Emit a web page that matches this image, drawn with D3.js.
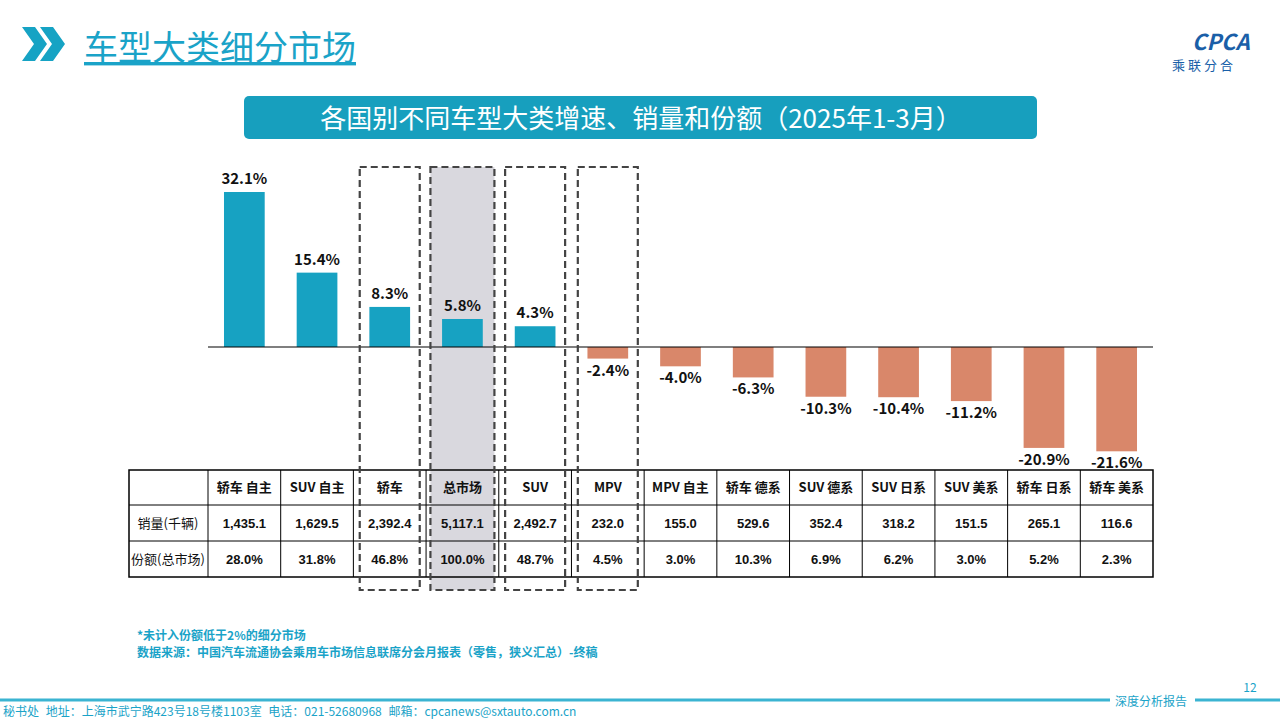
<!DOCTYPE html><html><head><meta charset="utf-8"><script src="https://cdn.jsdelivr.net/npm/d3@7"></script>
<style>body{margin:0;background:#fff}svg{font-family:"Noto Sans CJK SC",Arial,sans-serif}</style></head><body><svg id="c" width="1280" height="719"></svg>
<script>
const categories=["轿车 自主","SUV 自主","轿车","总市场","SUV","MPV","MPV 自主","轿车 德系","SUV 德系","SUV 日系","SUV 美系","轿车 日系","轿车 美系"];
const growth=[32.1,15.4,8.3,5.8,4.3,-2.4,-4.0,-6.3,-10.3,-10.4,-11.2,-20.9,-21.6];
const sales=["1,435.1","1,629.5","2,392.4","5,117.1","2,492.7","232.0","155.0","529.6","352.4","318.2","151.5","265.1","116.6"];
const share=["28.0%","31.8%","46.8%","100.0%","48.7%","4.5%","3.0%","10.3%","6.9%","6.2%","3.0%","5.2%","2.3%"];
const rowLabels=["销量(千辆)","份额(总市场)"];
const boxed=[2,3,4,5];
const svg=d3.select("#c");
const x=d3.scaleBand().domain(categories).range([208,1153]).paddingInner(0.44).paddingOuter(0.22);
const y=d3.scaleLinear().domain([0,32.1]).range([347,192]);
const colX=d3.scaleBand().domain(categories).range([208,1153]);
// title
svg.append("path").attr("d","M22,27 L35,27 L47,44 L35,61 L22,61 L34,44Z").attr("fill","#16a3c4");
svg.append("path").attr("d","M40,27 L53,27 L65,44 L53,61 L40,61 L52,44Z").attr("fill","#16a3c4");
svg.append("text").attr("x",84).attr("y",60).attr("font-size",34).attr("fill","#1aa3c8").attr("text-decoration","underline").text("车型大类细分市场");
svg.append("text").attr("x",1192).attr("y",50).attr("font-size",22).attr("font-style","italic").attr("font-weight","bold").attr("fill","#1a5fa8").text("CPCA");
svg.append("text").attr("x",1172).attr("y",70).attr("font-size",13).attr("fill","#1a5fa8").attr("letter-spacing",3).text("乘联分合");
svg.append("rect").attr("x",244).attr("y",96).attr("width",793).attr("height",43).attr("rx",5).attr("fill","#179fbe");
svg.append("text").attr("x",641).attr("y",128).attr("text-anchor","middle").attr("font-size",26).attr("fill","#fff").text("各国别不同车型大类增速、销量和份额（2025年1-3月）");
// gray highlight
const cx0=c=>x(c)+x.bandwidth()/2;
svg.append("rect").attr("x",cx0("总市场")-32).attr("y",167).attr("width",64).attr("height",423).attr("fill","#d9d8de");
// bars
svg.selectAll(".b").data(growth).join("rect").attr("x",(d,i)=>x(categories[i])).attr("width",x.bandwidth())
 .attr("y",d=>y(Math.max(0,d))).attr("height",d=>Math.abs(y(d)-y(0))).attr("fill",d=>d>=0?"#17a2c2":"#d9876a");
svg.selectAll(".l").data(growth).join("text").attr("x",(d,i)=>cx0(categories[i]))
 .attr("y",d=>d>=0?y(d)-8:y(d)+17).attr("text-anchor","middle").attr("font-size",15).attr("font-weight","bold").attr("fill","#111")
 .text(d=>d.toFixed(1)+"%");
svg.append("line").attr("x1",208).attr("x2",1153).attr("y1",347).attr("y2",347).attr("stroke","#000").attr("stroke-width",1.2);
// table
const rows=[470,505,541,577];
const g=svg.append("g").attr("font-size",13).attr("fill","#111");
g.append("rect").attr("x",129).attr("y",470).attr("width",1024).attr("height",107).attr("fill","none").attr("stroke","#000").attr("stroke-width",1.5);
rows.slice(1,3).forEach(r=>g.append("line").attr("x1",129).attr("x2",1153).attr("y1",r).attr("y2",r).attr("stroke","#000"));
[208,...categories.slice(1).map(c=>colX(c))].forEach(v=>g.append("line").attr("x1",v).attr("x2",v).attr("y1",470).attr("y2",577).attr("stroke","#000"));
categories.forEach((c,i)=>{const cx=colX(c)+colX.bandwidth()/2;
 g.append("text").attr("x",cx).attr("y",492).attr("text-anchor","middle").attr("font-weight","bold").text(c);
 g.append("text").attr("x",cx).attr("y",528).attr("text-anchor","middle").attr("font-family","Arial").attr("font-weight","bold").text(sales[i]);
 g.append("text").attr("x",cx).attr("y",564).attr("text-anchor","middle").attr("font-family","Arial").attr("font-weight","bold").text(share[i]);});
rowLabels.forEach((t,i)=>g.append("text").attr("x",168).attr("y",528+i*36).attr("text-anchor","middle").attr("font-size",13).text(t));
// dashed boxes
boxed.forEach(i=>{const w=i==3?64:60;
 svg.append("rect").attr("x",cx0(categories[i])-w/2).attr("y",167).attr("width",w).attr("height",423)
 .attr("fill","none").attr("stroke","#444").attr("stroke-width",2.2).attr("stroke-dasharray","7,4");});
// notes
svg.append("text").attr("x",137).attr("y",640).attr("font-size",12).attr("font-weight","bold").attr("fill","#1aa3c8").text("*未计入份额低于2%的细分市场");
svg.append("text").attr("x",137).attr("y",657).attr("font-size",12).attr("font-weight","bold").attr("fill","#1aa3c8").text("数据来源：中国汽车流通协会乘用车市场信息联席分会月报表（零售，狭义汇总）-终稿");
// footer
svg.append("line").attr("x1",0).attr("x2",1110).attr("y1",700).attr("y2",700).attr("stroke","#3bb4d2").attr("stroke-width",3);
svg.append("line").attr("x1",1195).attr("x2",1280).attr("y1",700).attr("y2",700).attr("stroke","#3bb4d2").attr("stroke-width",3);
svg.append("text").attr("x",1115).attr("y",706).attr("font-size",12).attr("fill","#1aa3c8").text("深度分析报告");
svg.append("text").attr("x",1250).attr("y",692).attr("font-size",12).attr("fill","#1aa3c8").attr("text-anchor","middle").text("12");
svg.append("text").attr("x",3).attr("y",716).attr("font-size",12).attr("fill","#1aa3c8").attr("word-spacing",4).text("秘书处  地址：上海市武宁路423号18号楼1103室  电话：021-52680968  邮箱：cpcanews@sxtauto.com.cn");
</script></body></html>
